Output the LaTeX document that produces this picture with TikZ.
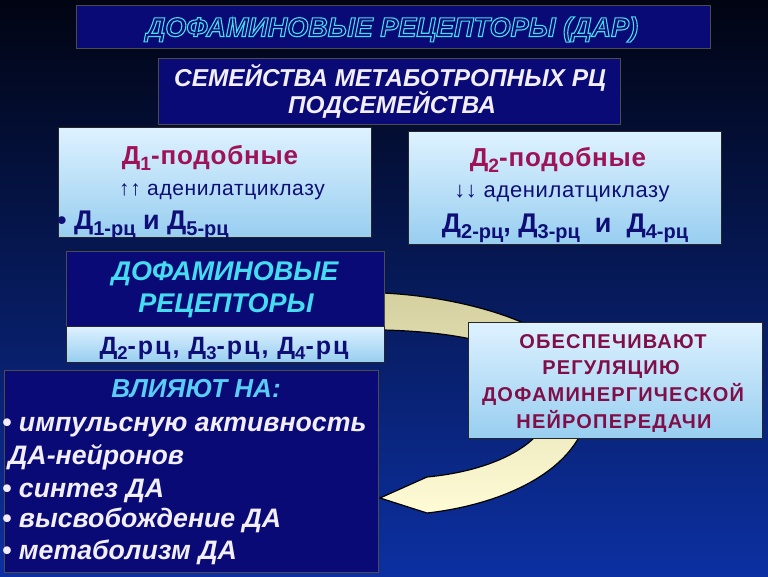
\documentclass[tikz,border=0pt]{standalone}
\usepackage{fontspec}
\usepackage{graphicx}
\setmainfont{Liberation Sans}
\newfontfamily\spacedfont[LetterSpace=6]{Liberation Sans}
\newfontfamily\lsfont[LetterSpace=3]{Liberation Sans}
\newfontfamily\wlsfont[LetterSpace=8]{Liberation Sans}
\definecolor{bgtop}{RGB}{1,4,18}
\definecolor{bgmid}{RGB}{10,34,112}
\definecolor{bgbot}{RGB}{12,48,162}
\definecolor{boxnavy}{RGB}{10,10,118}
\definecolor{cyantxt}{RGB}{70,220,240}
\definecolor{headcyan}{RGB}{90,205,245}
\definecolor{whitetxt}{RGB}{242,238,252}
\definecolor{crimson}{RGB}{158,18,88}
\definecolor{wine}{RGB}{128,14,72}
\definecolor{navytxt}{RGB}{14,14,118}
\definecolor{lighttop}{RGB}{222,242,255}
\definecolor{lightbot}{RGB}{152,206,240}
\definecolor{khaki}{RGB}{212,208,160}
\definecolor{cream}{RGB}{255,252,214}
\newcommand\lsub[1]{\raisebox{-0.45ex}{\scalebox{0.74}{#1}}}
\newcommand\outlinetext[1]{\special{pdf:literal direct 1 Tr 1.1 w}#1\special{pdf:literal direct 0 Tr}}
\begin{document}
\begin{tikzpicture}[x=1pt,y=-1pt,
  navybox/.style={draw=black!70, fill=boxnavy, line width=0.6pt, inner sep=0pt},
  lightbox/.style={draw=black!85, top color=lighttop, bottom color=lightbot, line width=0.6pt, inner sep=0pt},
  band/.style={draw=black, line width=1.2pt, top color=khaki, bottom color=cream},
  txt/.style={inner sep=0pt, anchor=base},
  infltxt/.style={inner sep=0pt, anchor=base west, font=\fontsize{26.7}{30}\selectfont\bfseries\itshape, text=whitetxt}
]
\useasboundingbox (0,0) rectangle (768,576);
\shade[top color=bgtop, middle color=bgmid, bottom color=bgbot] (0,0) rectangle (768,576);

% curved arrow band
\path[band] (376,293) -- (383,293) .. controls (470,297) and (590,330) .. (590,395)
  .. controls (590,470) and (500,505) .. (427,513) -- (380,498) -- (427,477)
  .. controls (500,470) and (552,440) .. (552,400)
  .. controls (552,350) and (470,332) .. (383,330) -- (376,330) -- cycle;

% title
\node[navybox, minimum width=634pt, minimum height=43pt] (title) at (393,26.5) {};
\node[txt] (titletxt) at (392,36.5) {\fontsize{27}{32}\selectfont\bfseries\itshape\color{cyantxt}\outlinetext{ДОФАМИНОВЫЕ РЕЦЕПТОРЫ (ДАР)}};

% subtitle
\node[navybox, minimum width=462pt, minimum height=66pt] (sub) at (389,91) {};
\node[txt] (sub1) at (390,86) {\fontsize{24.4}{28}\selectfont\bfseries\itshape\color{whitetxt}СЕМЕЙСТВА МЕТАБОТРОПНЫХ РЦ};
\node[txt] (sub2) at (392,113) {\fontsize{24.4}{28}\selectfont\bfseries\itshape\color{whitetxt}ПОДСЕМЕЙСТВА};

% D1 box
\node[lightbox, minimum width=313pt, minimum height=110pt] (d1) at (214.5,182) {};
\node[txt] (d1a) at (210,164) {\fontsize{26}{30}\selectfont\lsfont\bfseries\color{crimson}Д\lsub{1}-подобные};
\node[txt] (d1b) at (222,195) {\fontsize{21}{25}\selectfont\lsfont\color{navytxt}↑↑ аденилатциклазу};
\begin{scope}
\clip (58,127) rectangle (371,237);
\node[txt, anchor=base west] (d1c) at (57,229) {\fontsize{27}{32}\selectfont\bfseries\color{navytxt}• Д\lsub{1-рц} и Д\lsub{5-рц}};
\end{scope}

% D2 box
\node[lightbox, minimum width=313pt, minimum height=113pt] (d2) at (564.5,187.5) {};
\node[txt] (d2a) at (558,166) {\fontsize{26}{30}\selectfont\lsfont\bfseries\color{crimson}Д\lsub{2}-подобные};
\node[txt] (d2b) at (562,197) {\fontsize{22}{26}\selectfont\lsfont\color{navytxt}↓↓ аденилатциклазу};
\begin{scope}
\clip (408,131) rectangle (721,244);
\node[txt] (d2c) at (565,232) {\fontsize{27}{32}\selectfont\bfseries\color{navytxt}Д\lsub{2-рц}, Д\lsub{3-рц}\ \ и\ \ Д\lsub{4-рц}};
\end{scope}

% DA receptors box
\node[navybox, minimum width=318pt, minimum height=75pt] (da) at (225,288.5) {};
\node[txt] (da1) at (225,280) {\fontsize{27}{31}\selectfont\bfseries\itshape\color{cyantxt}ДОФАМИНОВЫЕ};
\node[txt] (da2) at (226,312) {\fontsize{27}{31}\selectfont\bfseries\itshape\color{cyantxt}РЕЦЕПТОРЫ};
\node[lightbox, minimum width=318pt, minimum height=36pt] (dal) at (225,344) {};
\node[txt] (da3) at (224,354) {\fontsize{25}{29}\selectfont\wlsfont\bfseries\color{navytxt}Д\lsub{2}-рц, Д\lsub{3}-рц, Д\lsub{4}-рц};

% influence box
\node[navybox, minimum width=374pt, minimum height=202pt] (infl) at (191,471) {};
\node[txt] (inflh) at (196,397) {\fontsize{26}{30}\selectfont\bfseries\itshape\color{headcyan}ВЛИЯЮТ НА:};
\node[infltxt] (i1) at (2,431) {• импульсную активность};
\node[infltxt] (i2) at (8,464) {ДА-нейронов};
\node[infltxt] (i3) at (2,497) {• синтез ДА};
\node[infltxt] (i4) at (2,527) {• высвобождение ДА};
\node[infltxt] (i5) at (2,559) {• метаболизм ДА};

% regulation box
\node[lightbox, minimum width=294pt, minimum height=116pt] (reg) at (615,380) {};
\begin{scope}[every node/.style={txt}]
\node (r1) at (613,348) {\fontsize{20}{24}\selectfont\spacedfont\bfseries\color{wine}ОБЕСПЕЧИВАЮТ};
\node (r2) at (611,374) {\fontsize{20}{24}\selectfont\spacedfont\bfseries\color{wine}РЕГУЛЯЦИЮ};
\node (r3) at (613,401) {\fontsize{20}{24}\selectfont\spacedfont\bfseries\color{wine}ДОФАМИНЕРГИЧЕСКОЙ};
\node (r4) at (614,428) {\fontsize{20}{24}\selectfont\spacedfont\bfseries\color{wine}НЕЙРОПЕРЕДАЧИ};
\end{scope}
\end{tikzpicture}
\end{document}
